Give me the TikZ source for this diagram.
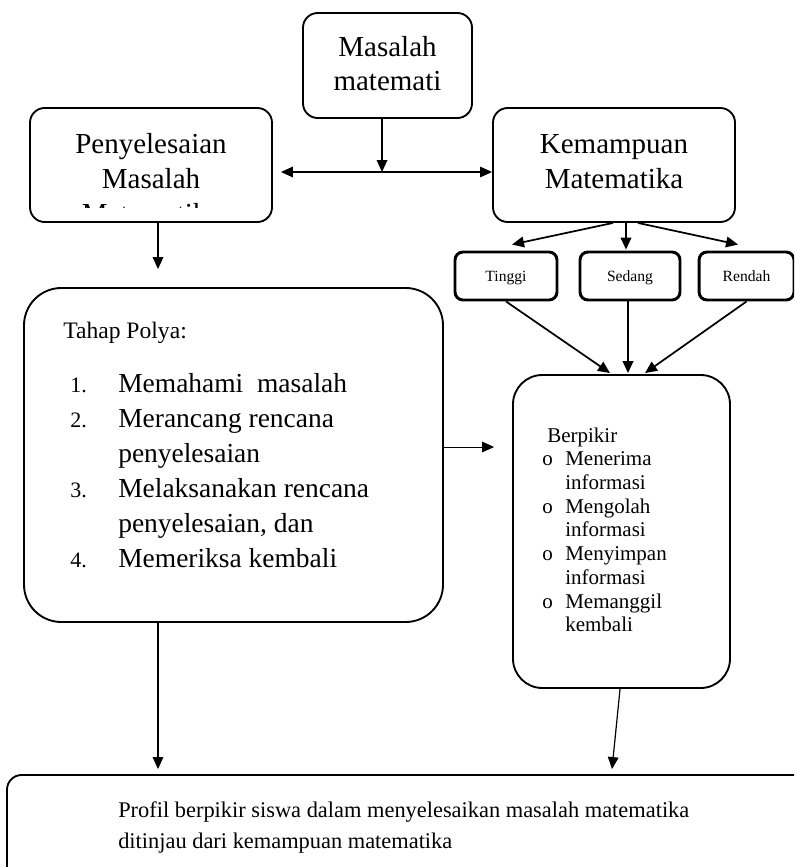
\documentclass[tikz,border=0pt]{standalone}
\usepackage{fontspec}
\setmainfont{Liberation Serif}
\usetikzlibrary{arrows.meta,positioning}
\newcommand{\fbig}{\fontsize{21.75}{26.25}\selectfont}
\newcommand{\fmas}{\fontsize{21.75}{24.75}\selectfont}
\newcommand{\fhead}{\fontsize{17.7}{21}\selectfont}
\newcommand{\fitem}{\fontsize{20.6}{26.25}\selectfont}
\newcommand{\fnum}{\fontsize{16.5}{26.25}\selectfont}
\newcommand{\fsmall}{\fontsize{11.7}{14}\selectfont}
\newcommand{\fber}{\fontsize{15.75}{17.8}\selectfont}
\newcommand{\fprof}{\fontsize{16.8}{23.25}\selectfont}
\tikzset{box/.style={draw, line width=1.4pt, rounded corners=#1, inner sep=0pt},
	box/.default=11pt,
	grade/.style={draw, line width=2.2pt, rounded corners=6pt, minimum width=#1, minimum height=36pt, text height=8pt, text depth=0pt, font=\fsmall},
	arr/.style={->, line width=0.9pt}}

\begin{document}
\begin{tikzpicture}[
	x=0.75pt, y=-0.75pt, >={Triangle[length=9pt,width=8pt]},
	txt/.style={anchor=base, inner sep=0pt, align=center}
	]
		\useasboundingbox (0,0) rectangle (794,867);
		\clip (0,0) rectangle (794,867);

		\node[box, minimum width=126.75pt, minimum height=78.75pt] (Mas) at (387.5,65.5) {};
		\node[txt, font=\fmas] (MasT) at (387.5,90) {Masalah\\matemati};

		\node[box, minimum width=181.5pt, minimum height=85.5pt] (Pen) at (151,165) {};
		\node[txt, font=\fbig] (PenT) at (151,188) {Penyelesaian\\Masalah};
		\begin{scope}
			\clip (40,200) rectangle (262,207);
			\node[txt, font=\fbig] (PenC) at (151,223) {Matematika};
		\end{scope}

		\node[box, minimum width=181.5pt, minimum height=85.5pt] (Kem) at (614,165) {};
		\node[txt, font=\fbig] (KemT) at (614,188) {Kemampuan\\Matematika};

		\coordinate (mid) at (382,172);
		\draw[arr] (Mas.south -| mid) -- (mid);
		\draw[<->, line width=0.9pt, shorten <=6pt] (Pen.east |- mid) -- (Kem.west |- mid);

		\node[grade=76.5pt] (Ti) at (506,276) {Tinggi};
		\node[grade=75pt, right of=Ti, node distance=93pt] (Se) {Sedang};
		\node[grade=71.25pt, right of=Se, node distance=87.4pt] (Re) {Rendah};

		\draw[arr, line width=1.3pt] ([xshift=-0.75pt]Kem.south) -- ([shift={(6,-6)}]Ti.north);
		\draw[arr, line width=1.3pt] ([xshift=9pt]Kem.south) -- ([shift={(-4,-1)}]Se.north);
		\draw[arr, line width=1.3pt] ([xshift=18pt]Kem.south) -- ([shift={(-8.5,-6)}]Re.north);

		\node[box=28pt, minimum width=314.25pt, minimum height=250.5pt] (Pol) at (233.5,455) {};
		\node[anchor=base west, inner sep=0pt, font=\fhead] (PolH) at (63,338) {Tahap Polya:};
		\node[anchor=base west, inner sep=0pt, font=\fitem] (PolT) at (70,392) {%
			\begin{tabular}[t]{@{}l@{}l@{}}
				\makebox[36pt][l]{\fnum 1.} & Memahami\ \ masalah\\
				\makebox[36pt][l]{\fnum 2.} & Merancang rencana\\
				 & penyelesaian\\
				\makebox[36pt][l]{\fnum 3.} & Melaksanakan rencana\\
				 & penyelesaian, dan\\
				\makebox[36pt][l]{\fnum 4.} & Memeriksa kembali
			\end{tabular}};

		\node[box=22pt, minimum width=162.75pt, minimum height=234.75pt] (Ber) at (621.5,531.5) {};
		\node[anchor=base west, inner sep=0pt, font=\fber] (BerT) at (542,442) {%
			\begin{tabular}[t]{@{}l@{}l@{}}
				\multicolumn{2}{@{\hspace{3.75pt}}l@{}}{Berpikir}\\
				\makebox[17.25pt][l]{o} & Menerima\\
				 & informasi\\
				\makebox[17.25pt][l]{o} & Mengolah\\
				 & informasi\\
				\makebox[17.25pt][l]{o} & Menyimpan\\
				 & informasi\\
				\makebox[17.25pt][l]{o} & Memanggil\\
				 & kembali
			\end{tabular}};

		\draw[arr, line width=1.3pt] (Ti.south) -- ([shift={(-11.5,-1)}]Ber.north);
		\draw[arr, line width=1.3pt] ([xshift=-1.5pt]Se.south) -- ([shift={(6.5,-1)}]Ber.north);
		\draw[arr, line width=1.3pt] (Re.south) -- ([shift={(23.5,-1)}]Ber.north);

		\draw[arr, line width=0.7pt, shorten >=13.5pt] ([yshift=6pt]Pol.east) -- ([yshift=6pt]Pol.east -| Ber.west);
		\draw[arr] (Pen.south -| 158,0) -- ([shift={(0,-18)}]Pol.north -| 158,0);

		\node[box, minimum width=602.25pt, minimum height=93.75pt] (Pro) at (408.5,837.5) {};
		\node[anchor=base west, inner sep=0pt, align=left, font=\fprof] (ProT) at (118,848) {Profil berpikir siswa dalam menyelesaikan masalah matematika\\ditinjau dari kemampuan matematika};

		\draw[arr, shorten >=3.75pt] (Pol.south -| 158,0) -- (Pro.north -| 158,0);
		\draw[arr] ([xshift=-1.1pt]Ber.south) -- ([shift={(203.5,-5)}]Pro.north);

	\end{tikzpicture}
\end{document}
